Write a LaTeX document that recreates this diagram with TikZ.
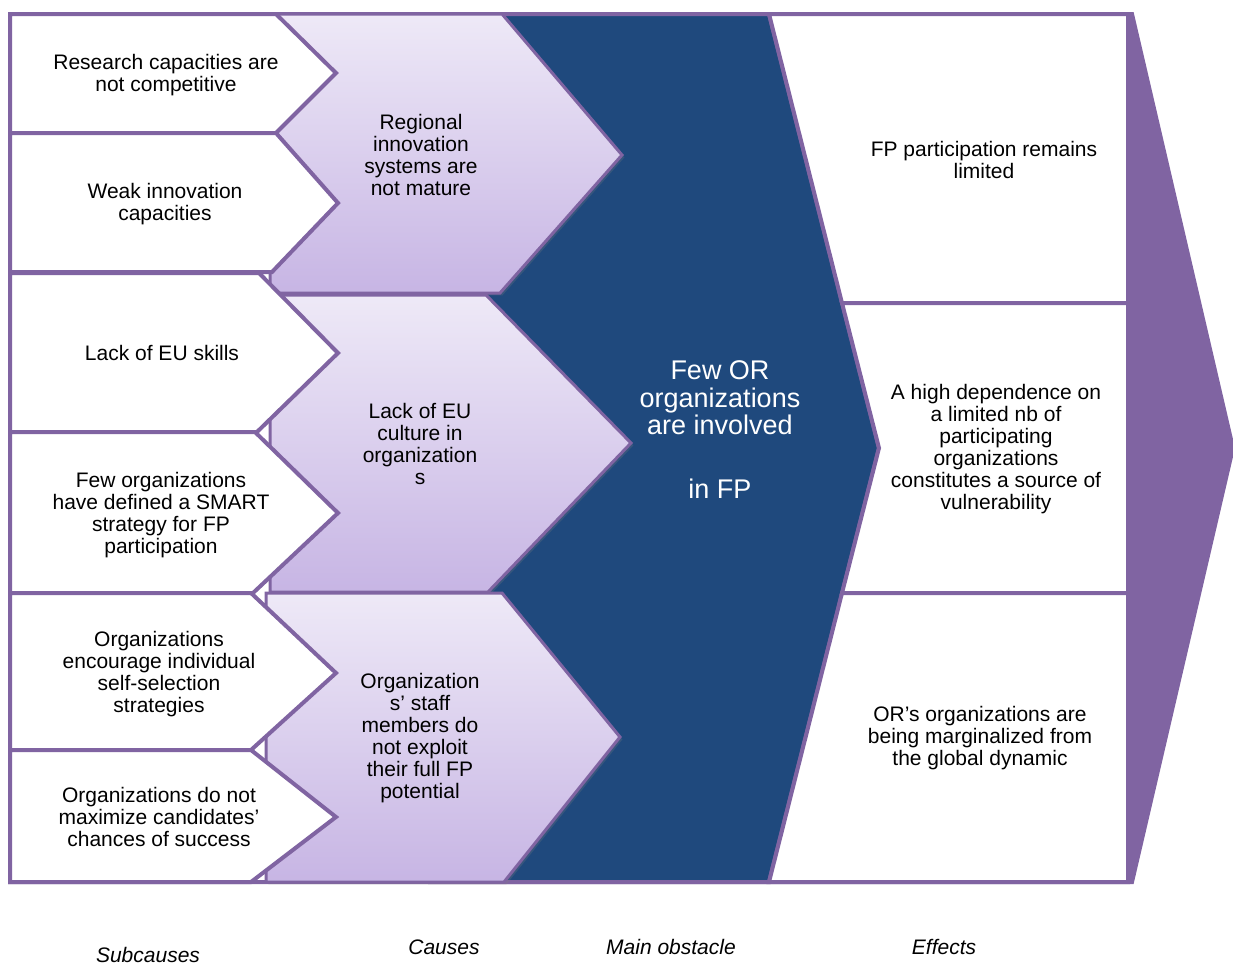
\documentclass[tikz,border=0pt]{standalone}
\usepackage{fontspec}
\setmainfont{Liberation Sans}
\usetikzlibrary{shadows}
\definecolor{frame}{RGB}{128,100,162}
\definecolor{obstacle}{RGB}{31,73,125}
\definecolor{causetop}{RGB}{238,233,247}
\definecolor{causebot}{RGB}{199,181,228}
\begin{document}
\begin{tikzpicture}[x=0.5pt,y=-0.5pt,
  outline/.style={draw=frame, line width=2pt, line join=miter},
  subbox/.style={outline, fill=white},
  causebox/.style={draw=frame, line width=1.5pt, top color=causetop, bottom color=causebot,
    drop shadow={shadow xshift=1.2pt, shadow yshift=-1.2pt, opacity=0.25}},
  txt/.style={font=\fontsize{10.5}{11}\selectfont, align=center, text=black, inner sep=0pt},
  maintxt/.style={font=\fontsize{13.5}{13.75}\selectfont, align=center, text=white, inner sep=0pt},
  caption/.style={font=\fontsize{10.5}{11}\selectfont\itshape, inner sep=0pt}]
\useasboundingbox (0,0) rectangle (1233,965);

% outer arrow carrying the whole chain
\draw[outline, fill=frame] (10,14) -- (1132,14) -- (1233,448) -- (1132,882) -- (10,882) -- cycle;
\fill[white] (12,16) rectangle (1126,880);

% main obstacle chevron
\draw[outline, fill=obstacle] (430,14) -- (769,14) -- (879,448) -- (769,882) -- (430,882) -- cycle;

% effects
\draw[subbox] (769,14) -- (1128,14) -- (1128,303) -- (842,303) -- cycle;
\draw[subbox] (842,303) -- (1128,303) -- (1128,593) -- (842,593) -- (879,448) -- cycle;
\draw[subbox] (842,593) -- (1128,593) -- (1128,882) -- (769,882) -- cycle;

% causes
\draw[causebox] (270,14) -- (502,14) -- (622,155) -- (500,293) -- (270,293) -- cycle;
\draw[causebox] (270,295) -- (486,295) -- (631,443) -- (488,592) -- (270,592) -- cycle;
\draw[causebox] (266,593) -- (502,593) -- (620,737) -- (504,882) -- (266,882) -- cycle;

% subcauses
\draw[subbox] (10,14) -- (276,14) -- (336,73) -- (276,133) -- (10,133) -- cycle;
\draw[subbox] (10,133) -- (276,133) -- (338,203) -- (272,272) -- (10,272) -- cycle;
\draw[subbox] (10,273) -- (259,273) -- (338,353) -- (257,432) -- (10,432) -- cycle;
\draw[subbox] (10,432) -- (255,432) -- (338,513) -- (253,593) -- (10,593) -- cycle;
\draw[subbox] (10,593) -- (251,593) -- (336,673) -- (251,750) -- (10,750) -- cycle;
\draw[subbox] (10,750) -- (251,750) -- (336,817) -- (251,882) -- (10,882) -- cycle;

% subcause texts
\node[txt] (s1) at (166,75) {Research capacities are\\not competitive};
\node[txt] (s2) at (165,204) {Weak innovation\\capacities};
\node[txt] (s3) at (162,353) {Lack of EU skills};
\node[txt] (s4) at (161,515) {Few organizations\\have defined a SMART\\strategy for FP\\participation};
\node[txt] (s5) at (159,674) {Organizations\\encourage individual\\self-selection\\strategies};
\node[txt] (s6) at (159,817) {Organizations do not\\maximize candidates’\\chances of success};

% cause texts
\node[txt] (c1) at (421,155) {Regional\\innovation\\systems are\\not mature};
\node[txt] (c2) at (420,444) {Lack of EU\\culture in\\organization\\s};
\node[txt] (c3) at (420,738) {Organization\\s’ staff\\members do\\not exploit\\their full FP\\potential};

% main obstacle text
\node[maintxt] (m) at (720,430) {Few OR\\organizations\\are involved\\[18.25pt]in FP};

% effect texts
\node[txt] (e1) at (984,160) {FP participation remains\\limited};
\node[txt] (e2) at (996,449) {A high dependence on\\a limited nb of\\participating\\organizations\\constitutes a source of\\vulnerability};
\node[txt] (e3) at (980,738) {OR’s organizations are\\being marginalized from\\the global dynamic};

% column captions
\node[caption] (l1) at (148,955) {Subcauses};
\node[caption] (l2) at (444,947) {Causes};
\node[caption] (l3) at (671,947) {Main obstacle};
\node[caption] (l4) at (944,947) {Effects};
\end{tikzpicture}
\end{document}
